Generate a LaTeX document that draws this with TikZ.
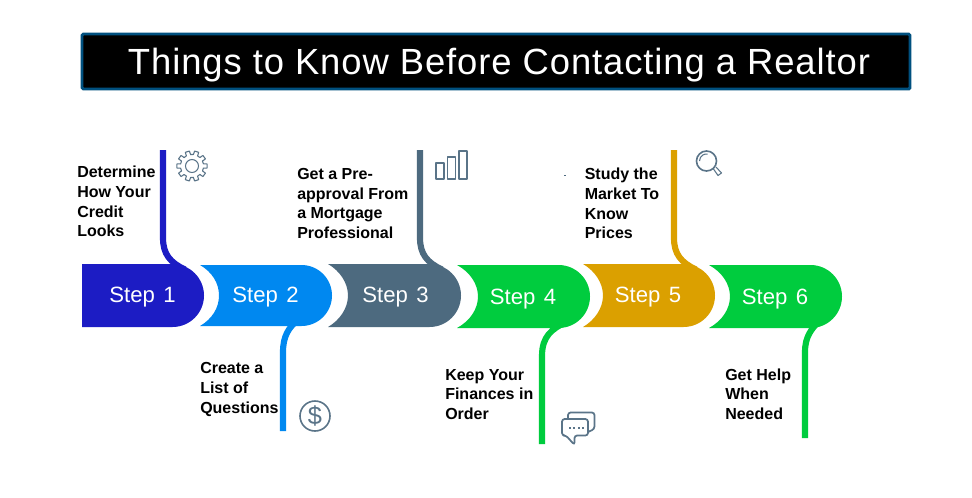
\documentclass[tikz,border=0pt]{standalone}
\usepackage{fontspec}
\setmainfont{Liberation Sans}
\newfontfamily\titlefont[LetterSpace=2.5]{Liberation Sans}
\definecolor{cA}{HTML}{1C1CC4}
\definecolor{cB}{HTML}{0088F0}
\definecolor{cC}{HTML}{4D6A7F}
\definecolor{cD}{HTML}{00CC3E}
\definecolor{cE}{HTML}{DBA000}
\definecolor{cI}{HTML}{5A7488}
\definecolor{cT}{HTML}{00507F}
\tikzset{
  desc/.style={anchor=north west,align=left,inner sep=0pt,font=\fontsize{12}{14.7}\selectfont\bfseries,text=black},
  steplabel/.style={inner sep=0pt,anchor=base,text=white,font=\fontsize{16.6}{20}\selectfont},
  conn/.style={line width=4.6pt},
  icon/.style={draw=cI,line width=1.2pt,line join=round},
  thinicon/.style={draw=cI,line width=0.8pt,line join=round}
}
\begin{document}
\begin{tikzpicture}[x=0.75pt,y=-0.75pt]
\useasboundingbox (0,0) rectangle (972,497);
\fill[white] (0,0) rectangle (972,497);
% title
\node[draw=cT,fill=black,line width=2.2pt,rounded corners=1pt,minimum width=828*0.75pt,minimum height=55*0.75pt,inner sep=0pt] (title) at (496,61.5) {};
\node[inner sep=0pt,anchor=base,text=white,font=\fontsize{27.3}{30}\titlefont] (titletext) at (499,74.5) {Things to Know Before Contacting a Realtor};
% connector ends
\coordinate (t1) at (163,150); \coordinate (b1) at (163,238); \coordinate (e1) at (185,269.5);
\coordinate (t2) at (283,431); \coordinate (b2) at (283,352); \coordinate (e2) at (298,320);
\coordinate (t3) at (420,150); \coordinate (b3) at (420,238); \coordinate (e3) at (442,269.5);
\coordinate (t4) at (542,444); \coordinate (b4) at (542,356); \coordinate (e4) at (566,322);
\coordinate (t5) at (674,150); \coordinate (b5) at (674,238); \coordinate (e5) at (696,269.5);
\coordinate (t6) at (805,438); \coordinate (b6) at (805,352); \coordinate (e6) at (818,322);
\draw[conn,cA] (t1) -- (b1) .. controls +(0,16) and +(-15,-7) .. (e1);
\draw[conn,cB] (t2) -- (b2) .. controls +(0,-16) and +(-9,7) .. (e2);
\draw[conn,cC] (t3) -- (b3) .. controls +(0,16) and +(-15,-7) .. (e3);
\draw[conn,cD] (t4) -- (b4) .. controls +(0,-20) and +(-14,7) .. (e4);
\draw[conn,cE] (t5) -- (b5) .. controls +(0,16) and +(-15,-7) .. (e5);
\draw[conn,cD] (t6) -- (b6) .. controls +(0,-16) and +(-6,7) .. (e6);
% step shapes
\fill[cA] (82,264) -- (172.5,264) arc[start angle=-90,end angle=90,radius=31.5] -- (82,327) -- cycle;
\fill[cB] (200,265) -- (301.5,265) arc[start angle=-90,end angle=90,radius=30.5] -- (200,326)
  .. controls (212,319) and (219,308) .. (219,295.5) .. controls (219,283) and (212,272) .. (200,265) -- cycle;
\fill[cC] (328,264) -- (429.5,264) arc[start angle=-90,end angle=90,radius=31.5] -- (328,327)
  .. controls (340,320) and (348,308) .. (348,295.5) .. controls (348,283) and (340,271) .. (328,264) -- cycle;
\fill[cD] (457,265) -- (558.5,265) arc[start angle=-90,end angle=90,radius=31.5] -- (457,328)
  .. controls (470,321) and (478,309) .. (478,296.5) .. controls (478,284) and (470,272) .. (457,265) -- cycle;
\fill[cE] (583,264) -- (683.5,264) arc[start angle=-90,end angle=90,radius=31.5] -- (583,327)
  .. controls (595,320) and (603,308) .. (603,295.5) .. controls (603,283) and (595,271) .. (583,264) -- cycle;
\fill[cD] (709,265) -- (810.5,265) arc[start angle=-90,end angle=90,radius=31.5] -- (709,328)
  .. controls (722,321) and (730,309) .. (730,296.5) .. controls (730,284) and (722,272) .. (709,265) -- cycle;
\node[steplabel] (s1) at (142.5,302.5) {Step\hspace{0.1em} 1};
\node[steplabel] (s2) at (265.5,302.5) {Step\hspace{0.1em} 2};
\node[steplabel] (s3) at (395.5,302.5) {Step\hspace{0.1em} 3};
\node[steplabel] (s4) at (523,304.5) {Step\hspace{0.1em} 4};
\node[steplabel] (s5) at (648,302.5) {Step\hspace{0.1em} 5};
\node[steplabel] (s6) at (775,304.5) {Step\hspace{0.1em} 6};
% descriptions
\node[desc] (d1) at (77,166) {Determine\\How Your\\Credit\\Looks};
\node[desc] (d2) at (200,362.5) {Create a\\List of\\Questions};
\node[desc] (d3) at (297,168) {Get a Pre-\\approval From\\a Mortgage\\Professional};
\node[desc] (d4) at (445,369) {Keep Your\\Finances in\\Order};
\node[desc] (d5) at (584.5,168) {Study the\\Market To\\Know\\Prices};
\node[desc] (d6) at (725,368.5) {Get Help\\When\\Needed};
\fill[cC] (564,175) rectangle (566,176);
% gear
\begin{scope}[shift={(192,166)}]
  \draw[thinicon] (0,0) circle[radius=6.5];
  \foreach \a in {0,36,...,324}{
    \draw[thinicon] ({\a-27}:11.6) arc[start angle=\a-27,end angle=\a-11,radius=11.6]
      -- ({\a-8}:15.2) arc[start angle=\a-8,end angle=\a+8,radius=15.2]
      -- ({\a+11}:11.6);
  }
\end{scope}
% bars
\draw[icon] (436,163) rectangle (444,179);
\draw[icon] (447.5,157) rectangle (455.5,179);
\draw[icon] (459,151) rectangle (467,179);
% magnifier
\draw[icon] (706.5,161) circle[radius=10];
\draw[thinicon] (699.5,161) arc[start angle=180,end angle=280,radius=7];
\draw[thinicon] (713.5,169) -- (718,175.5) -- (721.5,173) -- (716,167);
% dollar
\draw[icon] (315,416) circle[radius=15];
\node[inner sep=0pt,text=cI,font=\fontsize{19}{20}\selectfont] (dollar) at (315,416) {\$};
% chat
\draw[icon,line width=1.3pt,rounded corners=2pt] (568,419) -- (568,412.5) -- (594.5,412.5) -- (594.5,429) -- (588,432);
\draw[icon,line width=1.3pt,rounded corners=2pt] (562,419) -- (588,419) -- (588,435.5) -- (574.5,435.5) -- (574.5,445) -- (566,435.5) -- (562,435.5) -- cycle;
\foreach \x in {568.5,573,577.5,582}{\fill[cI] (\x,426.5) rectangle +(2,2);}
\end{tikzpicture}
\end{document}
